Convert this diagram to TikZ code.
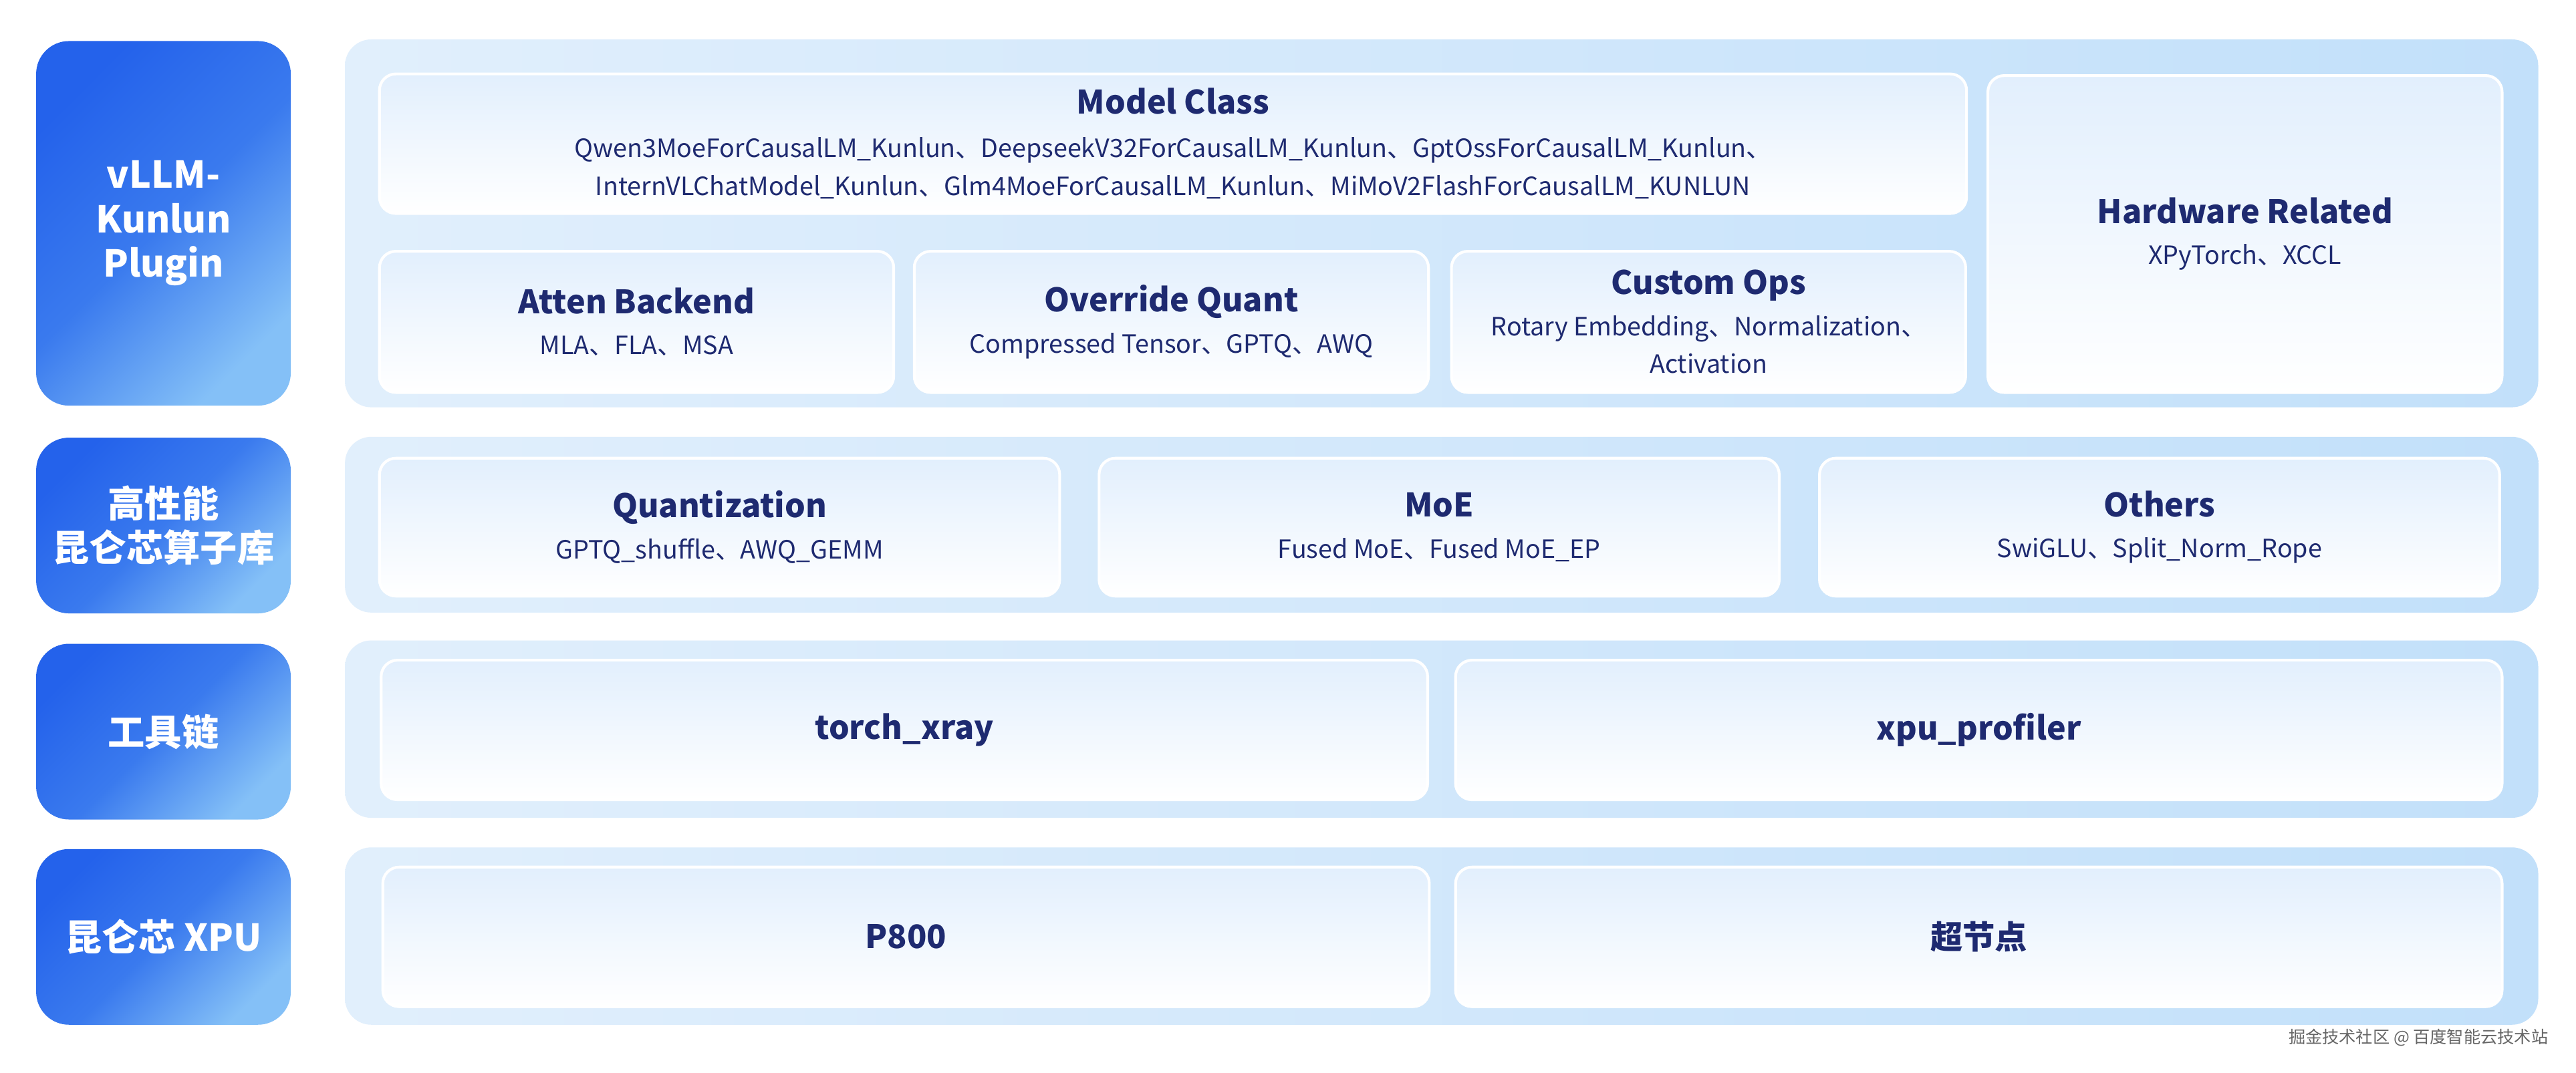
\documentclass[tikz,border=0pt]{standalone}
\usepackage{fontspec}
\setmainfont{Noto Sans CJK SC}
\usepackage{xcolor}
\usepackage{tikz}
\usetikzlibrary{positioning}

\definecolor{kdark}{RGB}{36,98,235}
\definecolor{kmid}{RGB}{58,122,238}
\definecolor{klight}{RGB}{132,192,247}
\definecolor{panelL}{RGB}{225,239,252}
\definecolor{panelR}{RGB}{194,224,250}
\definecolor{boxtop}{RGB}{226,239,253}
\definecolor{navy}{RGB}{30,42,112}

\newcommand{\blocktitle}[1]{{\fontsize{14}{17}\selectfont\bfseries #1}}

\begin{document}
\begin{tikzpicture}[
    x=0.25mm, y=-0.25mm,
    layer/.style={rectangle, rounded corners=5mm, top color=kdark, bottom color=klight, middle color=kmid, shading angle=45, text=white, align=center, inner sep=1mm, minimum width=38.75mm, font=\fontsize{16}{19.2}\selectfont\bfseries},
    panel/.style={rectangle, rounded corners=4mm, left color=panelL, right color=panelR, minimum width=333.75mm},
    block/.style={rectangle, rounded corners=2.5mm, top color=boxtop, bottom color=white, draw=white, line width=1.2pt, text=navy, align=center, inner sep=1mm, font=\fontsize{10.9}{16.4}\selectfont},
    unitblock/.style={block, minimum width=78.25mm, minimum height=21.5mm},
    opblock/.style={block, minimum width=103.5mm, minimum height=21mm},
    wideblock/.style={block, minimum width=159.25mm, minimum height=21.25mm},
    watermark/.style={text=black!60, font=\fontsize{7.3}{9}\selectfont}
]

\useasboundingbox (0,0) rectangle (1568,653);
\fill[white] (0,0) rectangle (1568,653);

% Layer labels
\node[layer, minimum height=55.5mm] (Plugin) at (99.5,136) {vLLM-\\Kunlun\\Plugin};
\node[layer, minimum height=26.75mm] (OpLib) at (99.5,320) {高性能\\昆仑芯算子库};
\node[layer, minimum height=26.75mm] (Tools) at (99.5,445.5) {工具链};
\node[layer, minimum height=26.75mm] (Xpu) at (99.5,570.5) {昆仑芯 XPU};

% Panels
\node[panel, minimum height=56mm] (PluginPanel) at (877.5,136) {};
\node[panel, minimum height=26.75mm] (OpLibPanel) at (877.5,319.5) {};
\node[panel, minimum height=27mm] (ToolsPanel) at (877.5,444) {};
\node[panel, minimum height=27mm] (XpuPanel) at (877.5,570) {};

% Plugin blocks
\node[block, minimum width=241.5mm, minimum height=21.25mm] (ModelClass) at (714,87.5) {\blocktitle{Model Class}\\[2.4pt]
    Qwen3MoeForCausalLM\_Kunlun、DeepseekV32ForCausalLM\_Kunlun、GptOssForCausalLM\_Kunlun、\\
    InternVLChatModel\_Kunlun、Glm4MoeForCausalLM\_Kunlun、MiMoV2FlashForCausalLM\_KUNLUN};
\node[unitblock] (AttenBackend) at (387.5,196) {\blocktitle{Atten Backend}\\[1.4pt] MLA、FLA、MSA};
\node[unitblock] (OverrideQuant) at (713,196) {\blocktitle{Override Quant}\\[1.4pt] Compressed Tensor、GPTQ、AWQ};
\node[unitblock] (CustomOps) at (1040,196) {\blocktitle{Custom Ops}\\[1.4pt] Rotary Embedding、Normalization、\\Activation};
\node[block, minimum width=78.25mm, minimum height=48.25mm] (Hardware) at (1366.5,142.5) {\blocktitle{Hardware Related}\\[1.4pt] XPyTorch、XCCL};

% Operator blocks
\node[opblock] (Quant) at (438,321) {\blocktitle{Quantization}\\[1.4pt] GPTQ\_shuffle、AWQ\_GEMM};
\node[opblock] (MoE) at (876,321) {\blocktitle{MoE}\\[1.4pt] Fused MoE、Fused MoE\_EP};
\node[opblock] (Others) at (1314.5,321) {\blocktitle{Others}\\[1.4pt] SwiGLU、Split\_Norm\_Rope};

% Tool blocks
\node[wideblock] (TorchXray) at (550.5,444.5) {\blocktitle{torch\_xray}};
\node[wideblock] (XpuProfiler) at (1204.5,444.5) {\blocktitle{xpu\_profiler}};

% Chip blocks
\node[wideblock] (P800) at (551.5,570.5) {\blocktitle{P800}};
\node[wideblock] (SuperNode) at (1204.5,570.5) {\blocktitle{超节点}};

\node[watermark, anchor=east] (Credit) at (1556,632) {掘金技术社区 @ 百度智能云技术站};

\end{tikzpicture}
\end{document}
